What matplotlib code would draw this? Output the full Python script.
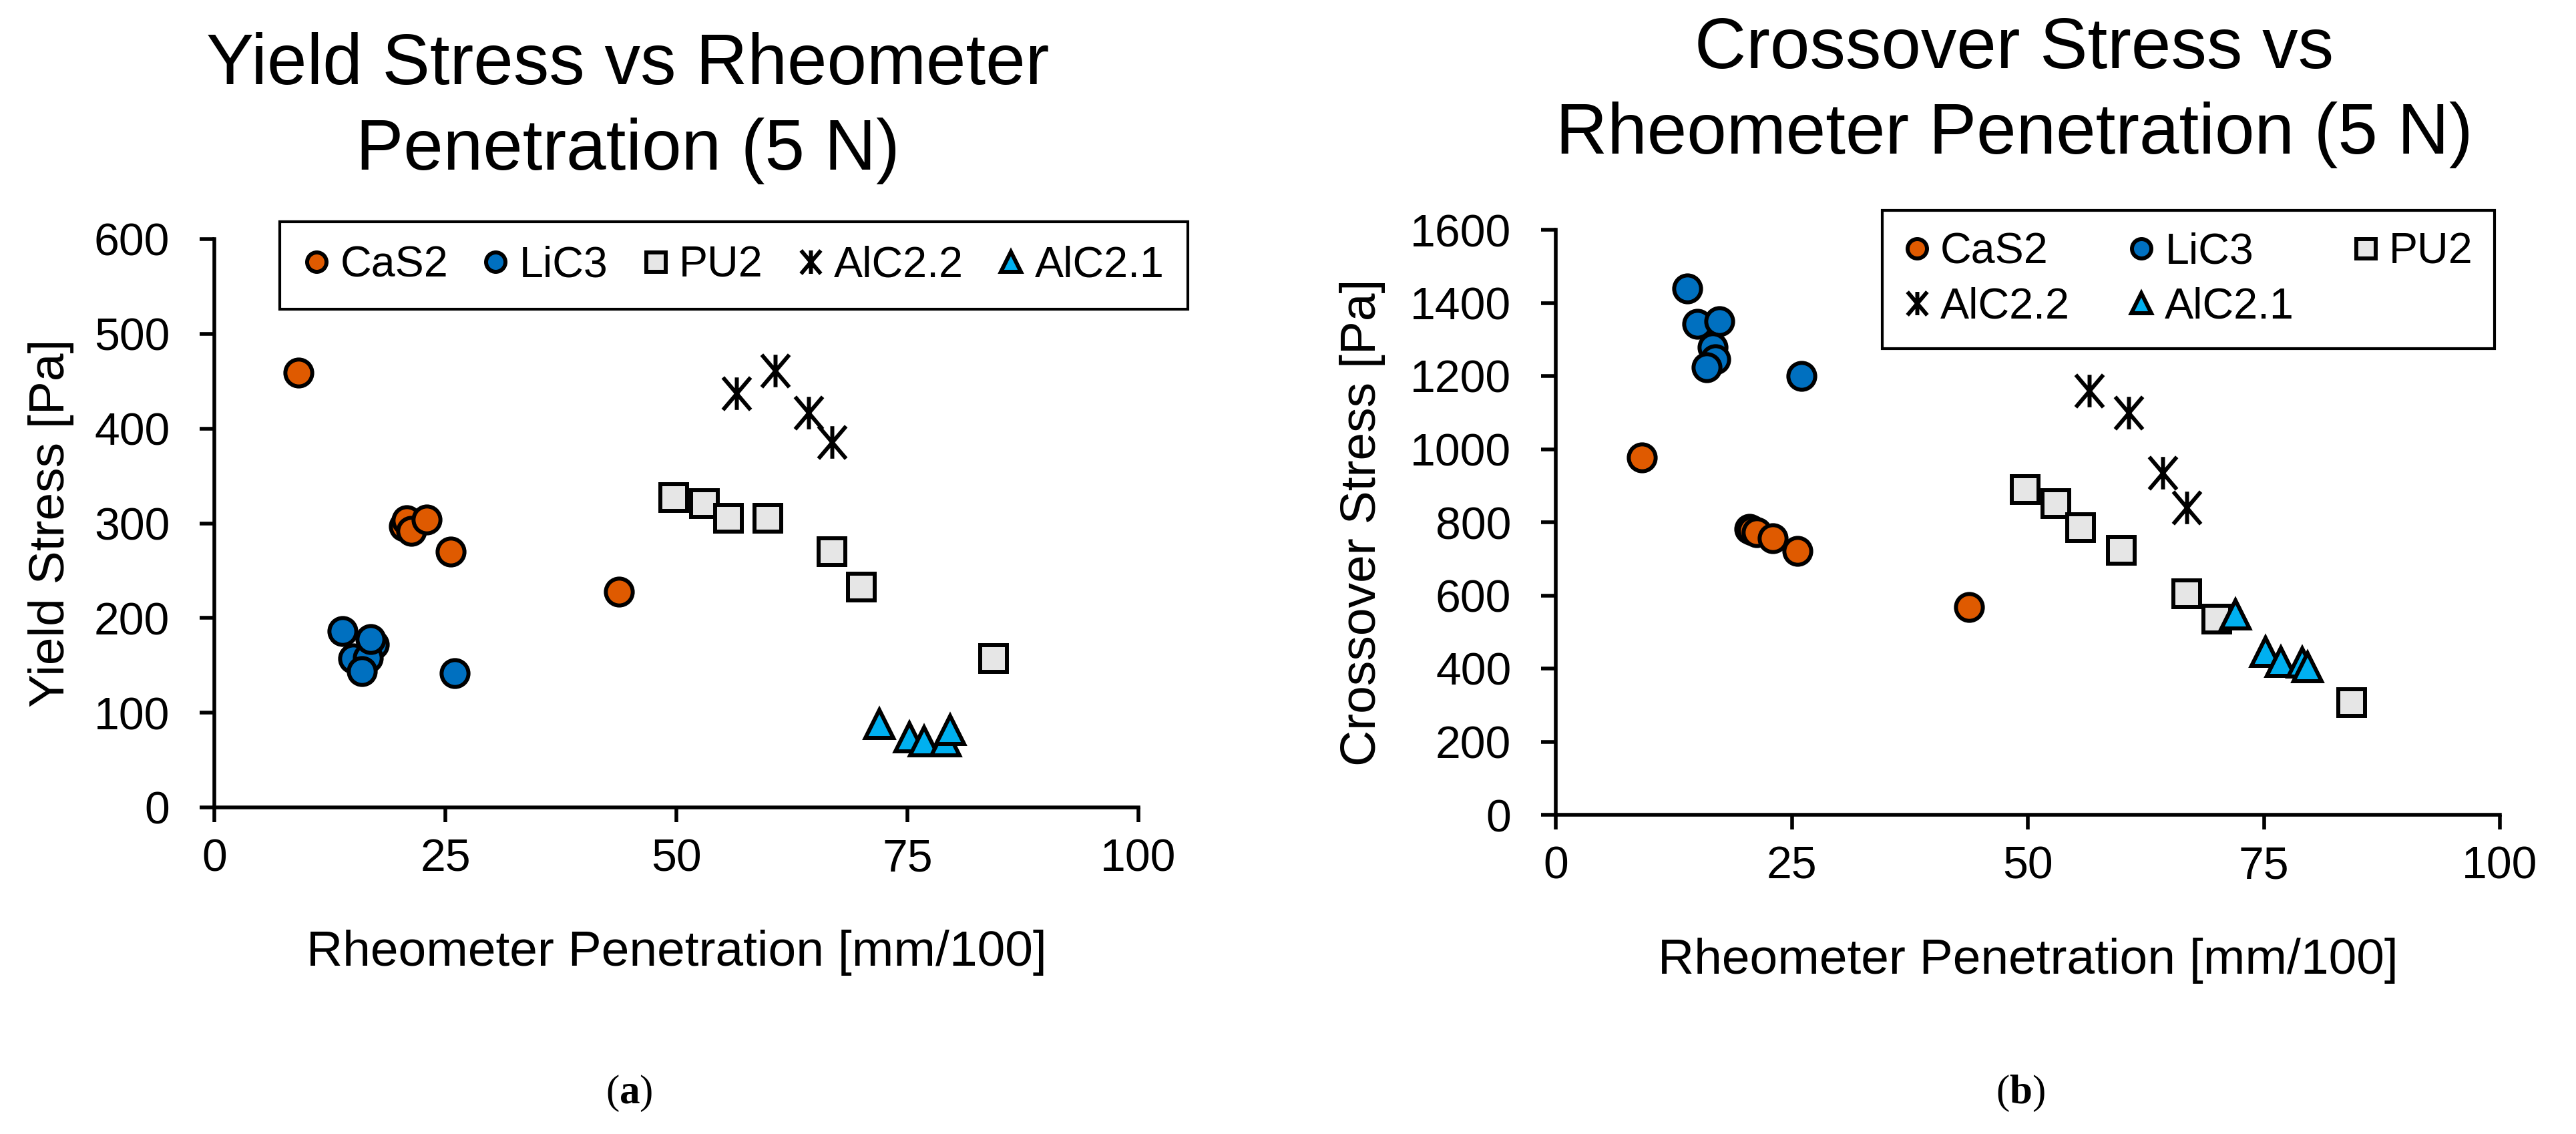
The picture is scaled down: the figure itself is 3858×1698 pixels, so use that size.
import numpy as np
import matplotlib
matplotlib.use("Agg")
import matplotlib.pyplot as plt
from matplotlib.path import Path
from matplotlib.markers import MarkerStyle

plt.rcParams['font.family'] = ['Liberation Sans', 'DejaVu Sans']
plt.rcParams['mathtext.fontset'] = 'custom'
plt.rcParams['mathtext.rm'] = 'Liberation Serif'
plt.rcParams['mathtext.bf'] = 'Liberation Serif:bold'

# data (penetration shared by both panels)
cas2_pen = [9.1, 20.5, 20.8, 21.3, 23.0, 25.6, 43.8]
cas2_yield = [459, 297, 303, 292, 304, 270, 228]
cas2_cross = [977, 782, 778, 772, 757, 721, 568]

lic3_pen = [13.9, 15.0, 17.3, 16.6, 16.9, 16.0, 26.0]
lic3_yield = [186, 157, 172, 158, 178, 144, 142]
lic3_cross = [1440, 1342, 1349, 1278, 1246, 1223, 1200]

pu2_pen = [49.7, 53.0, 55.6, 59.9, 66.8, 70.0, 84.3]
pu2_yield = [327, 321, 305, 305, 270, 233, 157]
pu2_cross = [890, 851, 786, 723, 605, 535, 306]

alc22_pen = [56.5, 60.7, 64.3, 66.8]
alc22_yield = [437, 461, 417, 386]
alc22_cross = [1160, 1100, 936, 840]

alc21_pen = [72.0, 75.2, 76.8, 79.1, 79.6]
alc21_yield = [88, 74, 70, 70, 82]
alc21_cross = [548, 445, 418, 416, 403]

names = ['CaS2', 'LiC3', 'PU2', 'AlC2.2', 'AlC2.1']

# excel-like star marker: vertical bar + X
star = Path([(0, -1), (0, 1), (-0.85, -1), (0.85, 1), (-0.85, 1), (0.85, -1)],
            [Path.MOVETO, Path.LINETO, Path.MOVETO, Path.LINETO, Path.MOVETO, Path.LINETO])
star_m = MarkerStyle(star, capstyle='butt')

styles = [
    dict(marker='o', mfc='#DF5A00', ms=29),
    dict(marker='o', mfc='#0070C0', ms=29),
    dict(marker='s', mfc='#E6E6E6', ms=29),
    dict(marker=star_m, mfc='none', ms=35),
    dict(marker='^', mfc='#00B0F0', ms=30),
]

W, H = 3858, 1698
fig = plt.figure(figsize=(W / 100, H / 100), dpi=100)


def rect(x0, y0, x1, y1):
    return [x0 / W, 1 - y1 / H, (x1 - x0) / W, (y1 - y0) / H]


ax1 = fig.add_axes(rect(321, 358, 1705, 1209))
ax2 = fig.add_axes(rect(2330, 344, 3744, 1220))

pens = [cas2_pen, lic3_pen, pu2_pen, alc22_pen, alc21_pen]
yields = [cas2_yield, lic3_yield, pu2_yield, alc22_yield, alc21_yield]
crosses = [cas2_cross, lic3_cross, pu2_cross, alc22_cross, alc21_cross]

handles = {}
for ax, ys in [(ax1, yields), (ax2, crosses)]:
    hl = []
    for i in range(5):
        st = styles[i]
        h, = ax.plot(pens[i], ys[i], linestyle='none', marker=st['marker'],
                     markersize=st['ms'], markerfacecolor=st['mfc'], markeredgecolor='black',
                     markeredgewidth=4.3, label=names[i], clip_on=False)
        hl.append(h)
    handles[ax] = hl
    ax.set_xlim(0, 100)
    ax.set_xticks([0, 25, 50, 75, 100])
    for s in ['top', 'right']:
        ax.spines[s].set_visible(False)
    for s in ['left', 'bottom']:
        ax.spines[s].set_linewidth(4)
    ax.tick_params(axis='both', direction='out', length=16, width=4, labelsize=49)
    ax.tick_params(axis='x', pad=17)
    ax.tick_params(axis='y', pad=32)
    ax.set_xlabel('Rheometer Penetration [mm/100]', fontsize=54)

ax1.set_ylim(0, 600)
ax1.set_yticks(np.arange(0, 601, 100))
ax2.set_ylim(0, 1600)
ax2.set_yticks(np.arange(0, 1601, 200))

ax1.set_ylabel('Yield Stress [Pa]', fontsize=54)
ax2.set_ylabel('Crossover Stress [Pa]', fontsize=54)
ax1.yaxis.set_label_coords(-0.152, 0.5)
ax2.yaxis.set_label_coords(-0.18, 0.5)
ax1.xaxis.set_label_coords(0.5, -0.215)
ax2.xaxis.set_label_coords(0.5, -0.21)

# titles
fig.text(940 / W, 1 - 126 / H, 'Yield Stress vs Rheometer', ha='center', va='baseline', fontsize=77)
fig.text(940 / W, 1 - 254 / H, 'Penetration (5 N)', ha='center', va='baseline', fontsize=77)
fig.text(3017 / W, 1 - 102 / H, 'Crossover Stress vs', ha='center', va='baseline', fontsize=77)
fig.text(3017 / W, 1 - 230 / H, 'Rheometer Penetration (5 N)', ha='center', va='baseline', fontsize=77)

# legends
leg1 = ax1.legend(loc='upper left', bbox_to_anchor=(419 / W, 1 - 332 / H),
                  bbox_transform=fig.transFigure, ncol=5, fontsize=46.5,
                  markerscale=0.72, handlelength=0.6, handletextpad=0.25,
                  columnspacing=0.8, borderpad=0.55, borderaxespad=0,
                  fancybox=False, framealpha=1, edgecolor='black')
leg1.get_frame().set_linewidth(3)

# row-wise order for the 3-column legend
h2 = handles[ax2]
order = [0, 3, 1, 4, 2]
leg2 = ax2.legend([h2[k] for k in order], [names[k] for k in order],
                  loc='upper left', bbox_to_anchor=(2819 / W, 1 - 315 / H),
                  bbox_transform=fig.transFigure, ncol=3, fontsize=46.5,
                  markerscale=0.72, handlelength=0.6, handletextpad=0.25,
                  columnspacing=1.35, borderpad=0.5, borderaxespad=0,
                  labelspacing=0.35, fancybox=False, framealpha=1, edgecolor='black')
leg2.get_frame().set_linewidth(3)

# panel captions
fig.text(942 / W, 1 - 1652 / H, r'$\mathrm{(}\mathbf{a}\mathrm{)}$', ha='center', va='baseline', fontsize=44)
fig.text(3026 / W, 1 - 1652 / H, r'$\mathrm{(}\mathbf{b}\mathrm{)}$', ha='center', va='baseline', fontsize=44)

fig.savefig('out.png', dpi=100, facecolor='white')
